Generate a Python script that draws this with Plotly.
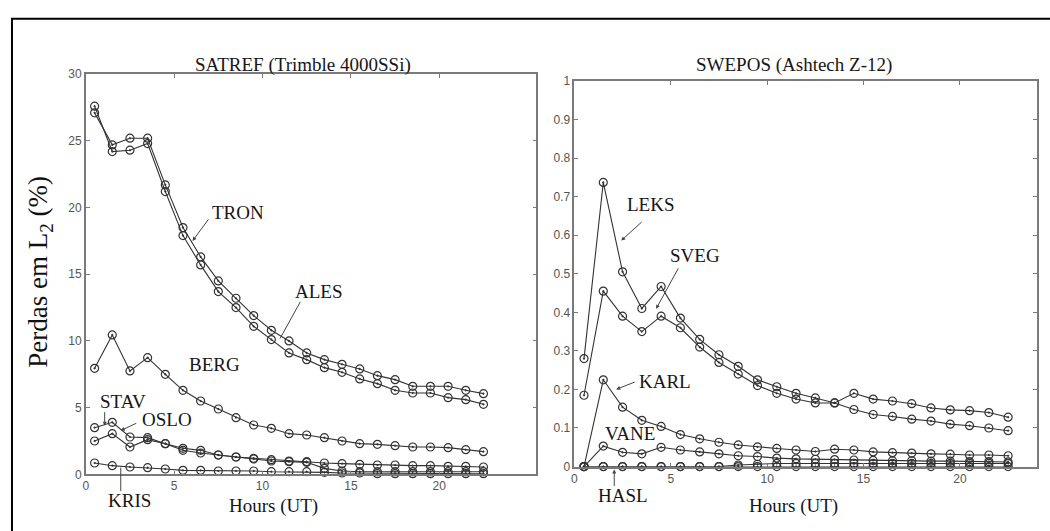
import plotly.graph_objects as go

W, H = 1050, 531

hours = [0.5 + i for i in range(23)]

# SATREF (Trimble 4000SSi)
tron = [27.1, 24.7, 25.2, 25.2, 21.7, 18.5, 16.3, 14.5, 13.2, 11.9, 10.8, 10.0, 9.1, 8.6, 8.25, 7.9, 7.4, 7.1, 6.6, 6.6, 6.6, 6.3, 6.05]
ales = [27.6, 24.2, 24.3, 24.8, 21.2, 17.9, 15.7, 13.7, 12.5, 11.1, 10.1, 9.1, 8.6, 8.0, 7.65, 7.15, 6.8, 6.3, 6.1, 6.1, 5.75, 5.6, 5.25]
berg = [7.95, 10.45, 7.75, 8.75, 7.5, 6.3, 5.5, 4.9, 4.25, 3.7, 3.45, 3.05, 2.95, 2.75, 2.5, 2.3, 2.25, 2.15, 2.05, 2.05, 2.0, 1.85, 1.7]
stav = [3.5, 3.9, 2.8, 2.75, 2.3, 1.95, 1.8, 1.45, 1.3, 1.2, 1.1, 1.0, 0.95, 0.85, 0.8, 0.75, 0.7, 0.7, 0.65, 0.65, 0.6, 0.6, 0.55]
oslo = [2.5, 3.05, 2.05, 2.6, 2.3, 1.8, 1.6, 1.45, 1.3, 1.15, 1.0, 0.95, 0.9, 0.45, 0.25, 0.2, 0.2, 0.2, 0.2, 0.2, 0.2, 0.2, 0.2]
kris = [0.85, 0.65, 0.55, 0.5, 0.4, 0.3, 0.3, 0.25, 0.25, 0.25, 0.2, 0.2, 0.2, 0.15, 0.1, 0.1, 0.05, 0.05, 0.05, 0.05, 0.05, 0.05, 0.05]

# SWEPOS (Ashtech Z-12)
leks = [0.28, 0.737, 0.505, 0.41, 0.467, 0.385, 0.33, 0.29, 0.26, 0.225, 0.207, 0.19, 0.178, 0.165, 0.19, 0.175, 0.17, 0.163, 0.152, 0.147, 0.145, 0.14, 0.128]
sveg = [0.185, 0.455, 0.39, 0.35, 0.39, 0.36, 0.31, 0.27, 0.24, 0.21, 0.19, 0.175, 0.165, 0.165, 0.148, 0.135, 0.13, 0.123, 0.118, 0.11, 0.106, 0.1, 0.093]
karl = [0.0, 0.225, 0.154, 0.12, 0.104, 0.083, 0.072, 0.063, 0.056, 0.051, 0.047, 0.043, 0.039, 0.045, 0.043, 0.038, 0.036, 0.035, 0.033, 0.032, 0.03, 0.03, 0.028]
vane = [0.0, 0.053, 0.037, 0.033, 0.05, 0.043, 0.038, 0.033, 0.028, 0.026, 0.022, 0.02, 0.019, 0.018, 0.017, 0.016, 0.015, 0.015, 0.014, 0.014, 0.013, 0.013, 0.012]
other = [0.0, 0.0, 0.0, 0.0, 0.0, 0.0, 0.0, 0.0, 0.004, 0.006, 0.008, 0.008, 0.008, 0.008, 0.008, 0.008, 0.008, 0.008, 0.008, 0.008, 0.008, 0.008, 0.008]
hasl = [0.0] * 23

left_series = {"TRON": tron, "ALES": ales, "BERG": berg, "STAV": stav, "OSLO": oslo, "KRIS": kris}
right_series = {"LEKS": leks, "SVEG": sveg, "KARL": karl, "VANE": vane, "?": other, "HASL": hasl}

left_xticks = [0, 5, 10, 15, 20]
left_yticks = [0, 5, 10, 15, 20, 25, 30]
right_xticks = [0, 5, 10, 15, 20]
right_yticks = [round(0.1 * i, 1) for i in range(11)]

LINE = "#333333"
AX = "#7a7a7a"
TXT = "#161616"
SERIF = "Liberation Serif, Times New Roman, serif"
SANS = "Liberation Sans, Arial, sans-serif"

marker = dict(symbol="circle-open-dot", size=8, color=LINE, line=dict(width=1.2, color=LINE))

fig = go.Figure()
for name, vals in left_series.items():
    fig.add_trace(go.Scatter(x=hours, y=vals, xaxis="x", yaxis="y", name=name,
                             mode="lines+markers", cliponaxis=False,
                             line=dict(color=LINE, width=1.1), marker=marker))
for name, vals in right_series.items():
    fig.add_trace(go.Scatter(x=hours, y=vals, xaxis="x2", yaxis="y2", name=name,
                             mode="lines+markers", cliponaxis=False,
                             line=dict(color=LINE, width=1.1), marker=marker))

def px(x):
    return x / W

def py(y):
    return 1 - y / H

axis_common = dict(showgrid=False, zeroline=False, showline=True, mirror="ticks",
                   linecolor=AX, linewidth=1.5, ticks="inside", ticklen=4, tickcolor=AX,
                   tickfont=dict(family=SANS, size=12, color="#555"))

fig.update_layout(
    width=W, height=H, margin=dict(l=0, r=0, t=0, b=0),
    paper_bgcolor="white", plot_bgcolor="white", showlegend=False,
    xaxis=dict(domain=[px(83), px(535)], range=[0, 25.5], tickvals=left_xticks, anchor="y", **axis_common),
    yaxis=dict(domain=[py(480), py(69)], range=[0, 30], tickvals=left_yticks, anchor="x", **axis_common),
    xaxis2=dict(domain=[px(573), px(1037)], range=[0, 24], tickvals=right_xticks, anchor="y2", **axis_common),
    yaxis2=dict(domain=[py(472), py(76)], range=[0, 1], tickvals=right_yticks, anchor="x2", **axis_common),
)

ann = []
# titles and axis labels (paper positions in pixels)
paper_texts = [("SATREF (Trimble 4000SSi)", 301, 60, 19), ("SWEPOS (Ashtech Z-12)", 793, 60, 19),
               ("Hours (UT)", 271, 513, 19), ("Hours (UT)", 793, 513, 19),
               ("KRIS", 127, 507, 19), ("HASL", 622, 502, 19)]
for t, x, y, s in paper_texts:
    ann.append(dict(xref="paper", yref="paper", x=px(x), y=py(y), text=t, showarrow=False,
                    xanchor="center", yanchor="middle", font=dict(family=SERIF, size=s, color=TXT)))
ann.append(dict(xref="paper", yref="paper", x=px(37), y=py(272), text="Perdas em L<sub>2</sub> (%)", showarrow=False,
                xanchor="center", yanchor="middle",
                textangle=-90, font=dict(family=SERIF, size=27, color="#111")))

lab_font = dict(family=SERIF, size=19, color=TXT)
# left labels: (text, x, y)
left_labels = [("TRON", 8.63, 19.6), ("ALES", 13.2, 13.7), ("BERG", 7.28, 8.25),
               ("STAV", 2.09, 5.47), ("OSLO", 4.6, 4.09)]
for t, x, y in left_labels:
    ann.append(dict(xref="x", yref="y", x=x, y=y, text=t, showarrow=False, font=lab_font,
                    xanchor="center", yanchor="middle"))
# left arrows: (tip x, tip y, ax, ay, head)
left_arrows = [(6.04, 17.5, 17, -23, 2), (11.0, 10.2, 21, -38, 0), (1.07, 3.65, 0, -15, 2),
               (1.98, 3.28, 17, -8, 2), (1.98, 0.51, 0, 25, 0)]
for x, y, ax, ay, hd in left_arrows:
    ann.append(dict(xref="x", yref="y", x=x, y=y, ax=ax, ay=ay, text="", showarrow=True,
                    arrowhead=hd, arrowsize=0.8, arrowwidth=1, arrowcolor="#444"))

right_labels = [("LEKS", 3.98, 0.679), ("SVEG", 6.25, 0.548), ("KARL", 4.70, 0.22),
                ("VANE", 2.89, 0.086)]
for t, x, y in right_labels:
    ann.append(dict(xref="x2", yref="y2", x=x, y=y, text=t, showarrow=False, font=lab_font,
                    xanchor="center", yanchor="middle"))
right_arrows = [(2.43, 0.586, 22, -20, 2), (4.24, 0.409, 23, -42, 2), (2.17, 0.2, 20, -8, 2)]
for x, y, ax, ay, hd in right_arrows:
    ann.append(dict(xref="x2", yref="y2", x=x, y=y, ax=ax, ay=ay, text="", showarrow=True,
                    arrowhead=hd, arrowsize=0.8, arrowwidth=1, arrowcolor="#444"))
# HASL arrow sits just below the axis, so place it in paper coordinates
ann.append(dict(xref="paper", yref="paper", x=px(613), y=py(475), ax=0, ay=18, text="", showarrow=True,
                arrowhead=2, arrowsize=0.8, arrowwidth=1, arrowcolor="#444"))

fig.update_layout(annotations=ann)

fig.add_shape(type="rect", xref="paper", yref="paper", x0=px(9), x1=px(1060), y0=py(545), y1=py(12),
              line=dict(color="black", width=2), fillcolor="rgba(0,0,0,0)", layer="below")

fig.write_html("out.html")
